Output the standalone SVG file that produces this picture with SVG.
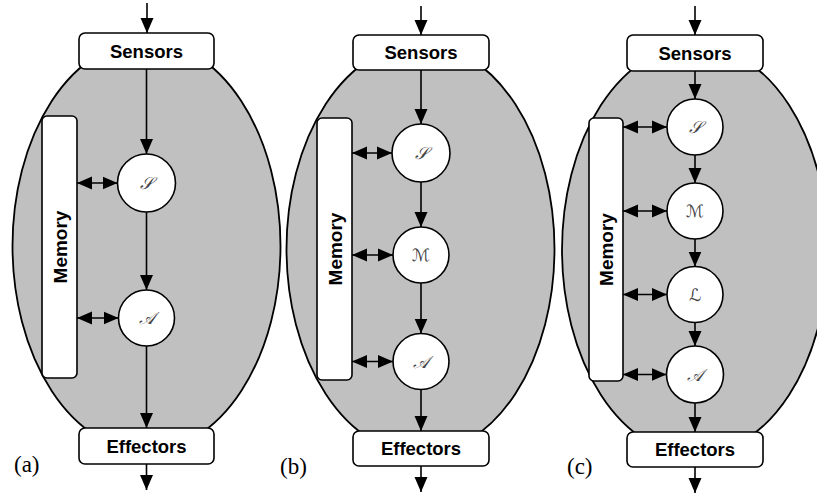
<svg xmlns="http://www.w3.org/2000/svg" width="817" height="493" viewBox="0 0 817 493">
<defs>
<marker id="ah" markerUnits="userSpaceOnUse" markerWidth="16" markerHeight="14" refX="15" refY="7" orient="auto-start-reverse" viewBox="0 0 16 14">
<path d="M0,0.5 L15,7 L0,13.5 z" fill="#000"/>
</marker>
<style>
.body{fill:#c0c0c0;stroke:#000;stroke-width:1.8}
.box{fill:#fff;stroke:#000;stroke-width:1.6}
.node{fill:#fff;stroke:#000;stroke-width:1.6}
.t{font-family:"Liberation Sans",Arial,sans-serif;font-weight:bold;font-size:18.5px;text-anchor:middle;fill:#000}
.m{font-family:"Liberation Sans",Arial,sans-serif;font-weight:bold;font-size:19px;text-anchor:middle;fill:#000}
.s{font-family:"DejaVu Serif","DejaVu Sans",serif;font-style:italic;font-size:17px;text-anchor:middle;fill:#444}
.lab{font-family:"Liberation Serif","Times New Roman",serif;font-size:23px;fill:#000}
.a{stroke:#000;stroke-width:1.6;fill:none;marker-end:url(#ah)}
.d{stroke:#000;stroke-width:1.6;fill:none;marker-end:url(#ah);marker-start:url(#ah)}
</style>
</defs>

<g id="bodies">
<ellipse class="body" cx="146.5" cy="246" rx="134" ry="205"/>
<ellipse class="body" cx="420.5" cy="249" rx="134" ry="205"/>
<ellipse class="body" cx="695" cy="250" rx="133" ry="205"/>
</g>

<g id="a-sensors"><rect class="box" x="79" y="33" width="135" height="36" rx="6"/><text class="t" x="146.5" y="57.5">Sensors</text></g>
<g id="a-memory"><rect class="box" x="42" y="116" width="35" height="262" rx="5"/><text class="m" transform="translate(66.5,247) rotate(-90)">Memory</text></g>
<g id="a-S"><circle class="node" cx="146.5" cy="183" r="29"/><text class="s" x="146.5" y="189">𝒮</text></g>
<g id="a-A"><circle class="node" cx="146.5" cy="318" r="28"/><text class="s" x="146.5" y="324">𝒜</text></g>
<g id="a-effectors"><rect class="box" x="79" y="428" width="135" height="36" rx="6"/><text class="t" x="146.5" y="452.5">Effectors</text></g>
<text class="lab" x="14" y="472">(a)</text>

<g id="b-sensors"><rect class="box" x="353" y="35" width="136" height="35" rx="6"/><text class="t" x="421" y="59">Sensors</text></g>
<g id="b-memory"><rect class="box" x="317" y="118" width="35" height="262" rx="5"/><text class="m" transform="translate(341.5,249) rotate(-90)">Memory</text></g>
<g id="b-S"><circle class="node" cx="421" cy="153" r="29"/><text class="s" x="421" y="159">𝒮</text></g>
<g id="b-M"><circle class="node" cx="421" cy="255" r="28"/><text class="s" x="421" y="261">ℳ</text></g>
<g id="b-A"><circle class="node" cx="421" cy="361.5" r="28"/><text class="s" x="421" y="367.5">𝒜</text></g>
<g id="b-effectors"><rect class="box" x="353" y="431" width="136" height="35" rx="6"/><text class="t" x="421" y="455">Effectors</text></g>
<text class="lab" x="280" y="474">(b)</text>

<g id="c-sensors"><rect class="box" x="627" y="35" width="136" height="36" rx="6"/><text class="t" x="695" y="59.5">Sensors</text></g>
<g id="c-memory"><rect class="box" x="589" y="118" width="34" height="263" rx="5"/><text class="m" transform="translate(613,249.5) rotate(-90)">Memory</text></g>
<g id="c-S"><circle class="node" cx="695" cy="127" r="28"/><text class="s" x="695" y="133">𝒮</text></g>
<g id="c-M"><circle class="node" cx="695" cy="211" r="28"/><text class="s" x="695" y="217">ℳ</text></g>
<g id="c-L"><circle class="node" cx="695" cy="294.5" r="28"/><text class="s" x="695" y="300.5">ℒ</text></g>
<g id="c-A"><circle class="node" cx="695" cy="374.5" r="28.5"/><text class="s" x="695" y="380.5">𝒜</text></g>
<g id="c-effectors"><rect class="box" x="627" y="432" width="136" height="35" rx="6"/><text class="t" x="695" y="456">Effectors</text></g>
<text class="lab" x="567" y="474">(c)</text>

<g id="connectors">
<line class="a" x1="147" y1="3" x2="147" y2="33"/>
<line class="a" x1="146.5" y1="69" x2="146.5" y2="154"/>
<line class="a" x1="146.5" y1="212" x2="146.5" y2="290"/>
<line class="a" x1="146.5" y1="346" x2="146.5" y2="428"/>
<line class="a" x1="146.5" y1="464" x2="146.5" y2="490"/>
<line class="d" x1="77" y1="183" x2="117.5" y2="183"/>
<line class="d" x1="77" y1="318" x2="118.5" y2="318"/>

<line class="a" x1="421" y1="6" x2="421" y2="35"/>
<line class="a" x1="421" y1="70" x2="421" y2="124"/>
<line class="a" x1="421" y1="182" x2="421" y2="227"/>
<line class="a" x1="421" y1="283" x2="421" y2="333.5"/>
<line class="a" x1="421" y1="389.5" x2="421" y2="431"/>
<line class="a" x1="421" y1="466" x2="421" y2="492"/>
<line class="d" x1="352" y1="153" x2="392" y2="153"/>
<line class="d" x1="352" y1="255" x2="393" y2="255"/>
<line class="d" x1="352" y1="361.5" x2="393" y2="361.5"/>

<line class="a" x1="695" y1="6" x2="695" y2="35"/>
<line class="a" x1="695" y1="71" x2="695" y2="99"/>
<line class="a" x1="695" y1="155" x2="695" y2="183"/>
<line class="a" x1="695" y1="239" x2="695" y2="266.5"/>
<line class="a" x1="695" y1="322.5" x2="695" y2="346"/>
<line class="a" x1="695" y1="403" x2="695" y2="432"/>
<line class="a" x1="695" y1="467" x2="695" y2="493"/>
<line class="d" x1="623" y1="127" x2="667" y2="127"/>
<line class="d" x1="623" y1="211" x2="667" y2="211"/>
<line class="d" x1="623" y1="294.5" x2="667" y2="294.5"/>
<line class="d" x1="623" y1="374.5" x2="666.5" y2="374.5"/>
</g>
</svg>
